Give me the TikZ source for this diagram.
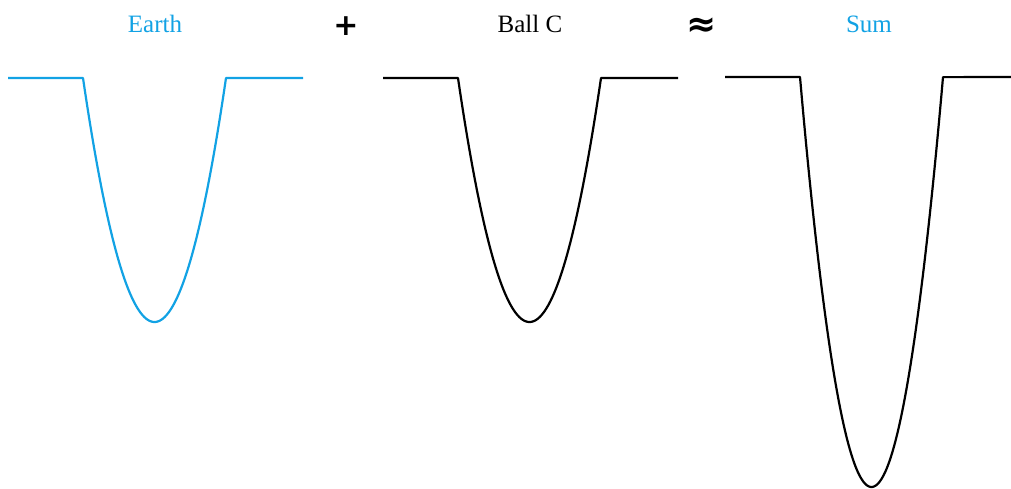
\documentclass[tikz,border=0pt]{standalone}
\usepackage{fontspec}
\setmainfont{Liberation Serif}
\newfontfamily\symfont{DejaVu Sans}
\definecolor{earthblue}{RGB}{18,162,228}
\tikzset{
  potline/.style={line width=2.2pt, line join=round},
  title/.style={font=\fontsize{25}{30}\selectfont, inner sep=0pt},
  opsign/.style={font=\symfont\bfseries\fontsize{30}{34}\selectfont, inner sep=0pt}
}
% flat -- parabolic well -- flat: left end, well centre, half width, top, depth, right end
\newcommand{\potwell}[7][black]{%
  \draw[potline, #1] (#2,#5) -- ({#3-#4},#5)
    -- plot[domain=-1:1, samples=80, smooth] ({#3+#4*\x},{#5+#6*(1-\x*\x)})
    -- (#7,#5);
}
\begin{document}
\begin{tikzpicture}[x=1pt, y=-1pt]
  \useasboundingbox (0,0) rectangle (1011,488);
  % Earth
  \potwell[earthblue]{8}{154.5}{71.5}{78}{244}{303}
  \node[title, text=earthblue] (earth) at (155,24) {Earth};
  \node[opsign] (plus) at (346,26) {+};
  % Ball C
  \potwell{383}{529.5}{71.5}{78}{244}{678}
  \node[title] (ballc) at (530,24) {Ball C};
  \node[opsign, font=\symfont\bfseries\fontsize{36}{40}\selectfont] (approx) at (702,27) {≈};
  % Sum
  \potwell{725}{871.5}{71.5}{77}{410}{1011}
  \node[title, text=earthblue] (sum) at (869,24) {Sum};
\end{tikzpicture}
\end{document}
